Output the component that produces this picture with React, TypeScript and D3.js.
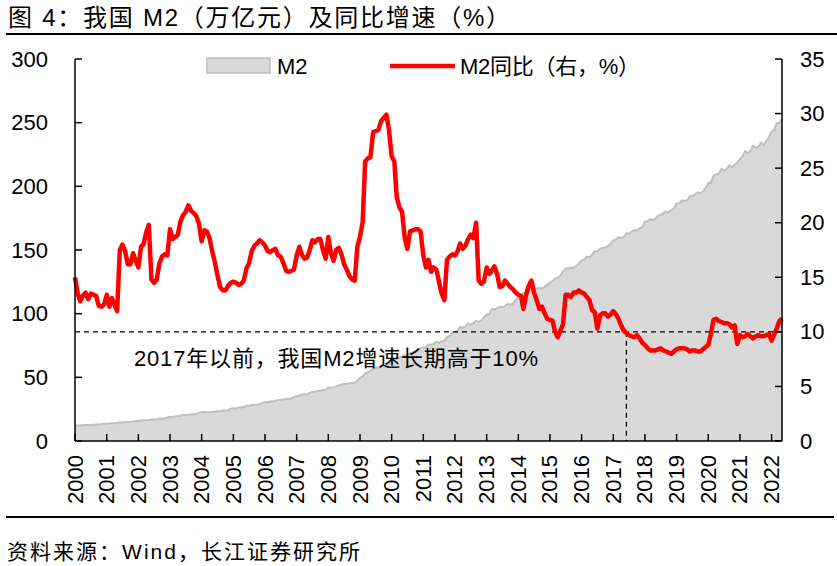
import React from "react";
import * as d3 from "d3";

const WIDTH = 837;
const HEIGHT = 566;
const PLOT = { left: 75, right: 782, top: 59, bottom: 441 };
const FONT = "'Liberation Sans', Arial, 'Noto Sans CJK SC', sans-serif";

// M2 level, trillion yuan, monthly Jan 2000 - May 2022
const m2Level = [
  12.1, 12.2, 12.3, 12.4, 12.5, 12.6, 12.6, 12.8, 12.9, 12.9, 13.1, 13.5,
  13.6, 13.7, 13.9, 14.0, 14.1, 14.7, 14.6, 14.8, 15.0, 15.0, 15.2, 15.8,
  16.0, 16.1, 16.2, 16.3, 16.5, 16.9, 16.9, 17.1, 17.6, 17.5, 17.8, 18.5,
  19.0, 18.9, 19.4, 19.5, 19.7, 20.4, 20.5, 20.7, 21.0, 21.1, 21.4, 22.1,
  22.6, 22.7, 22.6, 22.6, 22.7, 23.1, 23.2, 23.4, 24.0, 23.8, 24.1, 25.3,
  25.8, 25.4, 26.4, 26.4, 26.7, 27.6, 27.6, 28.2, 28.4, 28.4, 28.9, 29.9,
  30.4, 30.4, 31.0, 31.3, 31.5, 32.3, 32.4, 32.6, 33.1, 33.0, 33.4, 34.6,
  35.2, 35.6, 36.4, 36.8, 36.6, 37.8, 38.4, 38.7, 39.4, 39.4, 40.1, 40.3,
  41.8, 42.1, 42.3, 42.9, 43.6, 44.3, 44.7, 44.9, 45.3, 45.3, 45.8, 47.5,
  49.6, 50.7, 53.1, 54.0, 54.8, 56.9, 57.3, 57.7, 58.5, 58.6, 59.5, 61.0,
  62.6, 63.6, 64.9, 65.6, 66.3, 67.4, 67.4, 68.8, 69.6, 69.9, 71.0, 72.6,
  73.4, 73.7, 75.8, 75.7, 76.3, 78.1, 77.3, 78.1, 78.7, 81.7, 82.6, 85.2,
  85.6, 86.7, 89.6, 88.9, 90.0, 92.5, 91.2, 92.5, 94.4, 93.6, 94.5, 97.4,
  99.2, 99.9, 103.6, 103.3, 104.2, 105.4, 105.2, 106.1, 107.7, 107.1, 107.9, 110.7,
  112.4, 113.3, 116.1, 115.9, 117.5, 120.9, 119.4, 119.7, 120.2, 119.9, 120.9, 122.8,
  124.3, 125.7, 127.5, 128.1, 130.0, 133.3, 135.3, 135.7, 136.0, 136.1, 137.4, 139.2,
  141.6, 142.5, 144.6, 144.5, 146.2, 149.1, 149.2, 151.1, 151.6, 151.9, 153.0, 155.0,
  157.6, 158.3, 160.0, 159.6, 160.1, 163.1, 162.9, 164.5, 165.6, 165.3, 167.0, 167.7,
  172.1, 172.9, 174.0, 173.8, 174.3, 177.0, 177.6, 178.9, 180.2, 179.6, 181.3, 182.7,
  186.6, 186.7, 188.9, 188.6, 189.0, 192.1, 192.5, 193.6, 195.2, 194.6, 196.1, 198.6,
  202.3, 203.1, 208.1, 209.4, 210.0, 213.5, 212.6, 213.7, 216.4, 215.0, 217.2, 218.7,
  221.3, 223.6, 227.6, 226.2, 227.6, 231.8, 230.2, 231.2, 234.3, 232.3, 235.6, 238.3,
  243.1, 244.1, 249.8, 249.7, 252.7,
];

// M2 YoY growth, %, monthly Jan 2000 - May 2022
const m2Yoy = [
  15.0, 13.5, 12.8, 13.3, 13.6, 13.0, 13.5, 13.4, 13.3, 12.4, 12.3, 12.5,
  13.4, 12.3, 13.1, 12.5, 11.9, 17.5, 18.0, 17.4, 16.2, 16.2, 17.2, 16.5,
  15.9, 17.8, 18.0, 19.1, 19.8, 14.8, 14.5, 14.8, 16.3, 16.9, 17.1, 17.0,
  19.4, 18.5, 18.7, 18.9, 20.1, 20.7, 21.0, 21.6, 21.1, 20.9, 20.6, 19.9,
  18.3, 19.3, 19.2, 18.6, 17.4, 16.4, 15.2, 14.1, 13.8, 13.8, 14.2, 14.5,
  14.6, 14.5, 14.3, 14.4, 14.7, 15.8, 16.3, 17.4, 17.9, 18.1, 18.4, 18.2,
  17.9, 17.4, 17.3, 17.5, 17.6, 17.0, 16.9, 16.3, 15.6, 15.5, 15.6, 15.7,
  17.0, 17.8, 17.1, 16.7, 16.8, 17.5, 18.4, 18.2, 18.5, 18.5, 17.5, 16.7,
  18.7, 17.2, 16.5, 17.5, 17.7, 17.1, 16.2, 15.7, 15.1, 14.8, 14.7, 17.8,
  18.7, 20.1, 25.6, 25.9, 26.0, 28.3, 28.4, 28.5, 29.3, 29.6, 29.9, 28.5,
  26.1, 25.6, 22.3, 21.4, 21.0, 18.6, 17.6, 19.2, 19.3, 19.4, 19.4, 19.2,
  17.0, 15.9, 16.6, 15.5, 15.9, 15.7, 14.6, 13.5, 12.9, 16.6, 16.9, 17.1,
  17.0, 17.4, 18.1, 17.6, 17.9, 18.5, 18.9, 18.6, 20.0, 14.7, 14.4, 14.6,
  15.9, 15.3, 15.6, 16.0, 15.3, 14.1, 14.2, 14.7, 14.4, 14.1, 13.9, 13.6,
  13.4, 13.3, 12.1, 13.4, 14.2, 14.7, 13.6, 12.9, 12.1, 12.3, 11.7, 11.2,
  11.1, 11.0, 10.0, 9.5, 10.1, 10.7, 13.4, 13.4, 13.2, 13.6, 13.6, 13.8,
  13.6, 13.5, 13.2, 12.9, 12.0, 11.8, 10.3, 11.5, 11.7, 11.7, 11.4, 11.6,
  11.9, 11.6, 11.2, 10.6, 10.1, 9.9, 9.7, 9.6, 9.5, 9.7, 9.4, 9.0,
  8.8, 8.5, 8.3, 8.3, 8.3, 8.4, 8.5, 8.3, 8.2, 8.1, 8.0, 8.2,
  8.4, 8.5, 8.5, 8.5, 8.4, 8.2, 8.3, 8.3, 8.2, 8.2, 8.4, 8.6,
  8.8, 9.8, 11.1, 11.2, 11.0, 10.9, 10.8, 10.8, 10.7, 10.4, 10.6, 8.9,
  9.7, 9.5, 9.6, 9.8, 9.6, 9.4, 9.6, 9.7, 9.6, 9.6, 9.7, 9.8,
  9.2, 9.8, 10.3, 11.0, 11.2,
];

const yearTicks = [
  2000, 2001, 2002, 2003, 2004, 2005, 2006, 2007, 2008, 2009, 2010, 2011,
  2012, 2013, 2014, 2015, 2016, 2017, 2018, 2019, 2020, 2021, 2022,
];
const leftTicks = [0, 50, 100, 150, 200, 250, 300];
const rightTicks = [0, 5, 10, 15, 20, 25, 30, 35];

const thresholdPct = 10;
const thresholdDate = new Date(2017, 5, 1);

const months = d3.timeMonth.range(new Date(2000, 0, 1), new Date(2022, 5, 1));

export default function App() {
  const x = d3
    .scaleTime()
    .domain([months[0], months[months.length - 1]])
    .range([PLOT.left, PLOT.right]);
  const yLeft = d3.scaleLinear().domain([0, 300]).range([PLOT.bottom, PLOT.top]);
  const yRight = d3.scaleLinear().domain([0, 35]).range([PLOT.bottom, PLOT.top]);

  const areaPath =
    d3
      .area<number>()
      .x((d, i) => x(months[i]))
      .y0(yLeft(0))
      .y1((d) => yLeft(d))(m2Level) || "";
  const areaTop =
    d3
      .line<number>()
      .x((d, i) => x(months[i]))
      .y((d) => yLeft(d))(m2Level) || "";
  const yoyPath =
    d3
      .line<number>()
      .x((d, i) => x(months[i]))
      .y((d) => yRight(d))(m2Yoy) || "";

  const yTh = yRight(thresholdPct);
  const xTh = x(thresholdDate);

  return (
    <svg
      width={WIDTH}
      height={HEIGHT}
      style={{ position: "absolute", left: 0, top: 0, background: "#fff" }}
      fontFamily={FONT}
    >
      {/* title */}
      <text x={8} y={26} fontSize={24} fill="#000" textLength={502} lengthAdjust="spacing">
        图 4：我国 M2（万亿元）及同比增速（%）
      </text>
      <line x1={6} x2={837} y1={34} y2={34} stroke="#000" strokeWidth={2} />

      {/* area */}
      <path d={areaPath} fill="#d9d9d9" />
      <path d={areaTop} fill="none" stroke="#bfbfbf" strokeWidth={2} />

      {/* reference lines */}
      <line
        x1={PLOT.left}
        x2={PLOT.right}
        y1={yTh}
        y2={yTh}
        stroke="#000"
        strokeWidth={1.3}
        strokeDasharray="5,4"
      />
      <line
        x1={xTh}
        x2={xTh}
        y1={yTh}
        y2={PLOT.bottom}
        stroke="#000"
        strokeWidth={1.3}
        strokeDasharray="5,4"
      />

      {/* yoy line */}
      <path
        d={yoyPath}
        fill="none"
        stroke="#ff0000"
        strokeWidth={4.5}
        strokeLinejoin="round"
      />

      {/* axes */}
      <g stroke="#000" strokeWidth={1.5}>
        <line x1={PLOT.left} x2={PLOT.left} y1={PLOT.top} y2={PLOT.bottom} />
        <line x1={PLOT.right} x2={PLOT.right} y1={PLOT.top} y2={PLOT.bottom} />
        <line x1={PLOT.left} x2={PLOT.right} y1={PLOT.bottom} y2={PLOT.bottom} />
        {leftTicks.map((t) => (
          <line key={"l" + t} x1={PLOT.left} x2={PLOT.left + 7} y1={yLeft(t)} y2={yLeft(t)} />
        ))}
        {rightTicks.map((t) => (
          <line key={"r" + t} x1={PLOT.right - 7} x2={PLOT.right} y1={yRight(t)} y2={yRight(t)} />
        ))}
        {yearTicks.map((yr) => {
          const xx = x(new Date(yr, 0, 1));
          return <line key={"x" + yr} x1={xx} x2={xx} y1={PLOT.bottom - 7} y2={PLOT.bottom} />;
        })}
      </g>

      {/* tick labels */}
      <g fontSize={22} fill="#000">
        {leftTicks.map((t) => (
          <text key={"lt" + t} x={48} y={yLeft(t)} textAnchor="end" dominantBaseline="central">
            {t}
          </text>
        ))}
        {rightTicks.map((t) => (
          <text key={"rt" + t} x={800} y={yRight(t)} textAnchor="start" dominantBaseline="central">
            {t}
          </text>
        ))}
        {yearTicks.map((yr) => {
          const xx = x(new Date(yr, 0, 1));
          return (
            <text
              key={"xt" + yr}
              transform={`translate(${xx},455) rotate(-90)`}
              textAnchor="end"
              dominantBaseline="central"
            >
              {yr}
            </text>
          );
        })}
      </g>

      {/* legend */}
      <rect x={207} y={58} width={63} height={15} fill="#d9d9d9" stroke="#bfbfbf" strokeWidth={1.5} />
      <text x={277} y={74} fontSize={22} fill="#000">
        M2
      </text>
      <line x1={390} x2={455} y1={66} y2={66} stroke="#ff0000" strokeWidth={4.5} />
      <text x={460} y={74} fontSize={22} fill="#000" textLength={180} lengthAdjust="spacing">
        M2同比（右，%）
      </text>

      {/* annotation */}
      <text x={134} y={366} fontSize={22} fill="#000" textLength={404} lengthAdjust="spacing">
        2017年以前，我国M2增速长期高于10%
      </text>

      {/* footer */}
      <line x1={6} x2={834} y1={517} y2={517} stroke="#000" strokeWidth={2} />
      <text x={7} y={559} fontSize={21} fill="#000" textLength={353} lengthAdjust="spacing">
        资料来源：Wind，长江证券研究所
      </text>
    </svg>
  );
}
